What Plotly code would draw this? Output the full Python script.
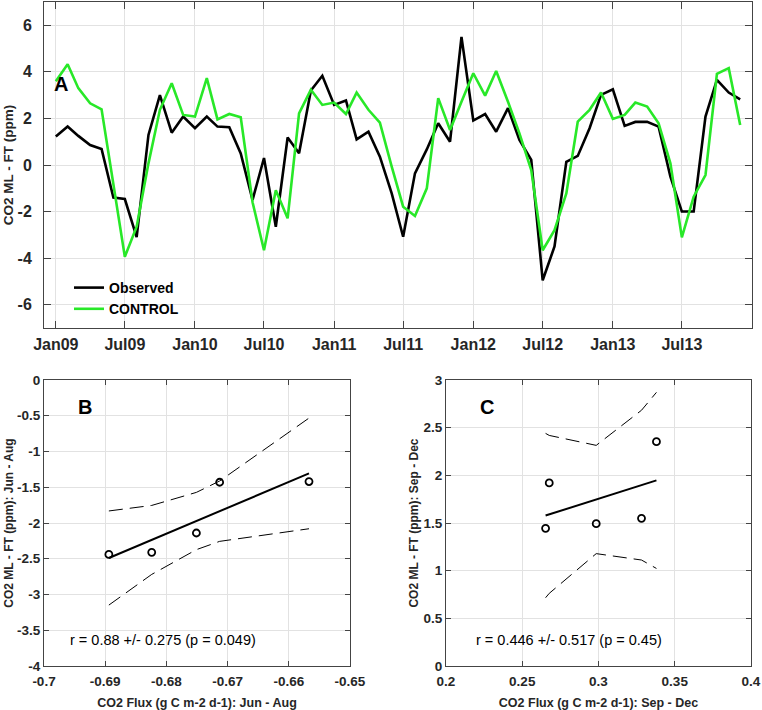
import numpy as np
import pandas as pd
import plotly.graph_objects as go

# ---------------- data ----------------
months = pd.date_range("2009-01-01", periods=60, freq="MS")
observed = [1.22, 1.65, 1.25, 0.86, 0.69, -1.40, -1.46, -3.10, 1.29, 3.00, 1.39, 2.08,
            1.58, 2.08, 1.65, 1.62, 0.50, -1.50, 0.30, -2.65, 1.18, 0.50, 3.20, 3.83,
            2.58, 2.77, 1.10, 1.43, 0.36, -1.22, -3.08, -0.36, 0.67, 1.79, 1.00, 5.50,
            1.91, 2.19, 1.43, 2.44, 1.08, 0.22, -4.95, -3.50, 0.14, 0.39, 1.58, 3.01,
            3.25, 1.68, 1.85, 1.85, 1.65, -0.50, -2.00, -2.00, 2.08, 3.66, 3.11, 2.82]
control = [3.60, 4.33, 3.30, 2.65, 2.39, -0.75, -3.94, -2.65, 0.07, 2.37, 3.51, 2.15,
           2.08, 3.73, 1.96, 2.19, 2.05, -1.60, -3.66, -1.08, -2.29, 2.22, 3.23, 2.58,
           2.68, 2.19, 3.11, 2.37, 1.82, -0.07, -1.79, -2.19, -1.00, 2.87, 1.50, 2.72,
           3.94, 2.98, 4.04, 2.72, 1.36, -0.22, -3.66, -2.80, -1.22, 1.86, 2.37, 3.11,
           1.98, 2.15, 2.68, 2.51, 1.79, 0.07, -3.11, -1.36, -0.43, 3.91, 4.16, 1.72]
top_tickvals = ["2009-01-01", "2009-07-01", "2010-01-01", "2010-07-01", "2011-01-01",
                "2011-07-01", "2012-01-01", "2012-07-01", "2013-01-01", "2013-07-01"]
top_ticktext = ["Jan09", "Jul09", "Jan10", "Jul10", "Jan11", "Jul11", "Jan12", "Jul12",
                "Jan13", "Jul13"]
top_yticks = [-6, -4, -2, 0, 2, 4, 6]

b_flux = [-0.6894, -0.6824, -0.6751, -0.6713, -0.6567]
b_co2 = [-2.44, -2.41, -2.14, -1.43, -1.42]
c_flux = [0.2653, 0.2677, 0.2985, 0.3282, 0.3380]
c_co2 = [1.444, 1.920, 1.493, 1.549, 2.353]

b_xticks = [-0.7, -0.69, -0.68, -0.67, -0.66, -0.65]
b_yticks = [-4, -3.5, -3, -2.5, -2, -1.5, -1, -0.5, 0]
c_xticks = [0.2, 0.25, 0.3, 0.35, 0.4]
c_yticks = [0, 0.5, 1, 1.5, 2, 2.5, 3]

b_text = "r = 0.88 +/- 0.275 (p = 0.049)"
c_text = "r = 0.446 +/- 0.517 (p = 0.45)"
T_975_DF3 = 3.182446  # Student t, 95% two-sided, n-2 = 3


def fit_band(x, y):
    x = np.asarray(x, float)
    y = np.asarray(y, float)
    order = np.argsort(x)
    x, y = x[order], y[order]
    n = len(x)
    slope, icpt = np.polyfit(x, y, 1)
    yhat = slope * x + icpt
    s = np.sqrt(np.sum((y - yhat) ** 2) / (n - 2))
    sxx = np.sum((x - x.mean()) ** 2)
    hw = T_975_DF3 * s * np.sqrt(1.0 / n + (x - x.mean()) ** 2 / sxx)
    return x, yhat, yhat + hw, yhat - hw


def fmt(v):
    return "%g" % v  # hyphen-minus as in original


FONT = "Liberation Sans, Arial, Helvetica, sans-serif"
DARK = "#262626"
GRID = "#e2e2e2"

fig = go.Figure()

# ---- panel A ----
fig.add_trace(go.Scatter(x=months, y=observed, mode="lines", name="Observed",
                         line=dict(color="black", width=2.6), xaxis="x", yaxis="y"))
fig.add_trace(go.Scatter(x=months, y=control, mode="lines", name="CONTROL",
                         line=dict(color="rgb(40,232,40)", width=2.6), xaxis="x", yaxis="y"))

# ---- panels B and C ----
for xs, ys, xa, ya in [(b_flux, b_co2, "x2", "y2"), (c_flux, c_co2, "x3", "y3")]:
    sx, yh, up, lo = fit_band(xs, ys)
    for band in (up, lo):
        fig.add_trace(go.Scatter(x=sx, y=band, mode="lines", showlegend=False,
                                 line=dict(color="black", width=1, dash="14px,7px"),
                                 xaxis=xa, yaxis=ya))
    fig.add_trace(go.Scatter(x=[sx[0], sx[-1]], y=[yh[0], yh[-1]], mode="lines", showlegend=False,
                             line=dict(color="black", width=2), xaxis=xa, yaxis=ya))
    fig.add_trace(go.Scatter(x=xs, y=ys, mode="markers", showlegend=False,
                             marker=dict(symbol="circle-open", size=7, color="black",
                                         line=dict(width=1.8, color="black")),
                             xaxis=xa, yaxis=ya))


def axis_style(ticksize, ticklen, **kw):
    d = dict(showline=True, linecolor="#444444", linewidth=1, mirror="ticks",
             ticks="inside", ticklen=ticklen, tickcolor="#444444", showgrid=True,
             gridcolor=GRID, gridwidth=1, zeroline=False, automargin=False,
             tickfont=dict(family=FONT, size=ticksize, color=DARK, weight="bold"))
    d.update(kw)
    return d


# plot area: x 44..752 px, y 2..666 px
ML, MR, MT, MB = 44, 10, 2, 44
PW, PH = 762 - ML - MR, 710 - MT - MB


def dx(a, b):
    return [(a - ML) / PW, (b - ML) / PW]


def dy(top, bot):
    return [(666 - bot) / PH, (666 - top) / PH]


title_font_x = dict(family=FONT, size=12.5, color=DARK, weight="bold")
title_font_y = dict(family=FONT, size=12, color=DARK, weight="bold")

fig.update_layout(
    width=762, height=710, margin=dict(l=ML, r=MR, t=MT, b=MB, autoexpand=False),
    paper_bgcolor="white", plot_bgcolor="white",
    font=dict(family=FONT, color=DARK),
    showlegend=True,
    legend=dict(x=(69 - ML) / PW, y=(666 - 272) / PH, xanchor="left", yanchor="top",
                bgcolor="rgba(0,0,0,0)", borderwidth=0,
                font=dict(family=FONT, size=14, color="black", weight="bold"),
                tracegroupgap=0),
    xaxis=axis_style(16, 7, domain=dx(44, 752), anchor="y", type="date",
                     range=["2008-12-01", "2014-01-01"],
                     tickvals=top_tickvals, ticktext=top_ticktext, ticklabelstandoff=2),
    yaxis=axis_style(16, 7, domain=dy(2, 328), anchor="x", range=[-7, 7],
                     tickvals=top_yticks, ticktext=[fmt(v) for v in top_yticks],
                     ticklabelstandoff=8,
                     title=dict(text="CO2 ML - FT (ppm)", standoff=0,
                                font=dict(family=FONT, size=13.5, color=DARK, weight="bold"))),
    xaxis2=axis_style(13.5, 5, domain=dx(44, 350), anchor="y2", range=[-0.7, -0.65],
                      tickvals=b_xticks, ticktext=[fmt(v) for v in b_xticks],
                      ticklabelstandoff=3,
                      title=dict(text="CO2 Flux (g C m-2 d-1): Jun - Aug", standoff=10,
                                 font=title_font_x)),
    yaxis2=axis_style(13.5, 5, domain=dy(380, 666), anchor="x2", range=[-4, 0],
                      tickvals=b_yticks, ticktext=[fmt(v) for v in b_yticks],
                      title=dict(text="CO2 ML - FT (ppm): Jun - Aug", standoff=0,
                                 font=title_font_y)),
    xaxis3=axis_style(13.5, 5, domain=dx(446, 751), anchor="y3", range=[0.2, 0.4],
                      tickvals=c_xticks, ticktext=[fmt(v) for v in c_xticks],
                      ticklabelstandoff=3,
                      title=dict(text="CO2 Flux (g C m-2 d-1): Sep - Dec", standoff=10,
                                 font=title_font_x)),
    yaxis3=axis_style(13.5, 5, domain=dy(380, 666), anchor="x3", range=[0, 3],
                      tickvals=c_yticks, ticktext=[fmt(v) for v in c_yticks],
                      title=dict(text="CO2 ML - FT (ppm): Sep - Dec", standoff=2,
                                 font=title_font_y)),
)

label_font = dict(family=FONT, size=20, color="black", weight="bold")
ann = [
    dict(text="A", xref="x domain", yref="y domain", x=0.011, y=0.748,
         xanchor="left", yanchor="middle", showarrow=False, font=label_font),
    dict(text="B", xref="x2 domain", yref="y2 domain", x=0.106, y=0.907,
         xanchor="left", yanchor="middle", showarrow=False, font=label_font),
    dict(text="C", xref="x3 domain", yref="y3 domain", x=0.106, y=0.907,
         xanchor="left", yanchor="middle", showarrow=False, font=label_font),
    dict(text=b_text, xref="x2", yref="y2", x=-0.6961, y=-3.64,
         xanchor="left", yanchor="middle", showarrow=False,
         font=dict(family=FONT, size=14.5, color="black")),
    dict(text=c_text, xref="x3", yref="y3", x=0.2181, y=0.273,
         xanchor="left", yanchor="middle", showarrow=False,
         font=dict(family=FONT, size=14.5, color="black")),
]
fig.update_layout(annotations=ann)

# remove the browser's default 8px body margin so the figure sits at the page origin
fig.write_html("out.html", config={"displayModeBar": False},
               post_script="document.body.style.margin='0px';")
